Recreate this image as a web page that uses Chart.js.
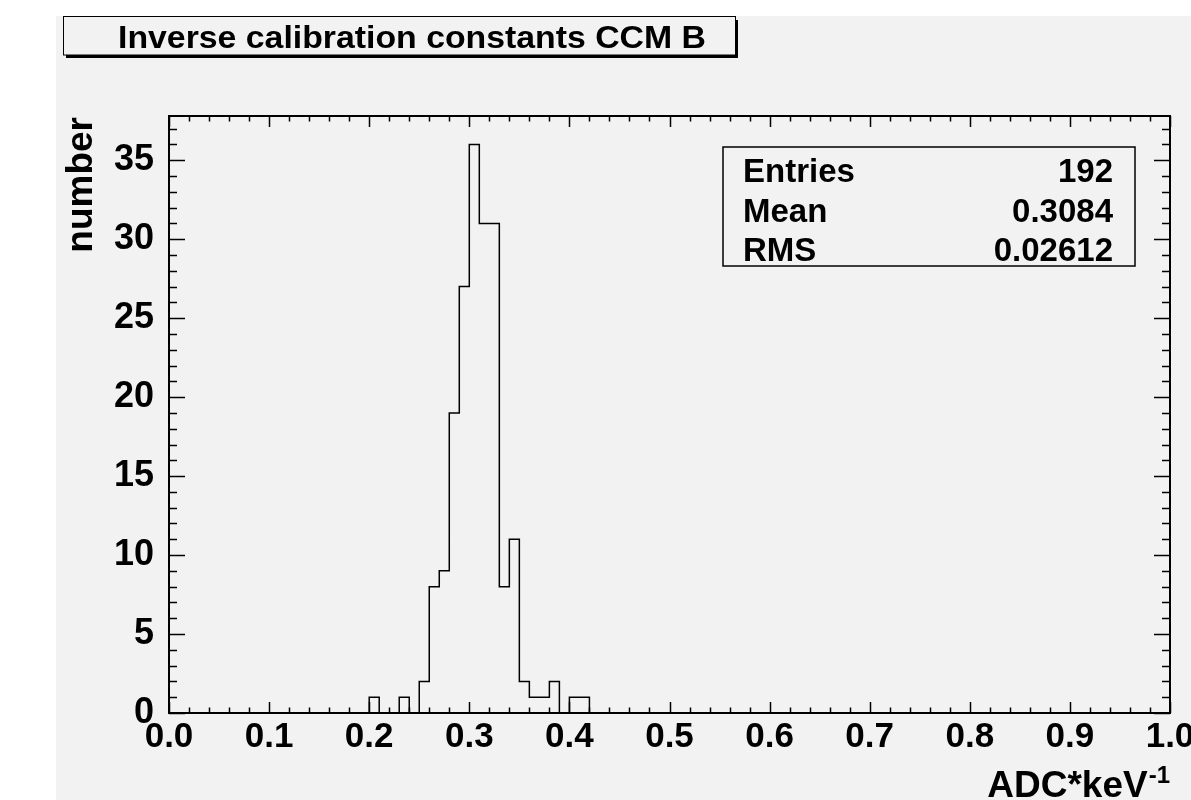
<!DOCTYPE html>
<html>
<head>
<meta charset="utf-8">
<script src="https://cdn.jsdelivr.net/npm/chart.js@4/dist/chart.umd.min.js"></script>
<style>
  html, body { margin: 0; padding: 0; background: #fff; }
  canvas { display: block; }
</style>
</head>
<body>
<canvas id="myChart" width="1191" height="800"></canvas>
<script>
// histogram bins (low edge) and counts, bin width 0.01
const binLow = [0.20, 0.21, 0.22, 0.23, 0.24, 0.25, 0.26, 0.27, 0.28, 0.29, 0.30,
                0.31, 0.32, 0.33, 0.34, 0.35, 0.36, 0.37, 0.38, 0.39, 0.40, 0.41];
const counts = [1, 0, 0, 1, 0, 2, 8, 9, 19, 27, 36, 31, 31, 8, 11, 2, 1, 1, 2, 0, 1, 1];
const binWidth = 0.01;
const xRange = [0, 1];
const yRange = [0, 37.8];

const titleText = 'Inverse calibration constants CCM B';
const xTitle = 'ADC*keV';
const xTitleSup = '-1';
const yTitle = 'number';
const statNames = ['Entries', 'Mean', 'RMS'];
const statValues = ['192', '0.3084', '0.02612'];

const FONT = '"Liberation Sans", Arial, Helvetica, sans-serif';

// step outline points
var pts = [{ x: xRange[0], y: 0 }];
for (var i = 0; i < binLow.length; i++) {
    pts.push({ x: binLow[i], y: counts[i] });
}
pts.push({ x: binLow[binLow.length - 1] + binWidth, y: 0 });
pts.push({ x: xRange[1], y: 0 });

const rootStyle = {
    id: 'rootStyle',
    beforeDraw: (chart) => {
        const ctx = chart.ctx;
        ctx.save();
        ctx.fillStyle = '#ffffff';
        ctx.fillRect(0, 0, chart.width, chart.height);
        ctx.fillStyle = '#f2f2f2';
        ctx.fillRect(56, 16, chart.width - 56, chart.height - 16);
        ctx.restore();
    },
    afterDraw: (chart) => {
        const ctx = chart.ctx;
        const a = chart.chartArea;
        const xs = chart.scales.x, ys = chart.scales.y;
        ctx.save();

        // ticks inside the frame
        ctx.strokeStyle = '#000';
        ctx.lineWidth = 1.5;
        ctx.beginPath();
        for (var k = 0; k <= 50; k++) {
            var v = k * 0.02;
            var px = Math.round(xs.getPixelForValue(v)) + 0.5;
            var len = (k % 5 === 0) ? 11 : 5.5;
            ctx.moveTo(px, a.bottom); ctx.lineTo(px, a.bottom - len);
            ctx.moveTo(px, a.top); ctx.lineTo(px, a.top + len);
        }
        for (var n = 0; n <= 37; n++) {
            var py = Math.round(ys.getPixelForValue(n)) + 0.5;
            var l2 = (n % 5 === 0) ? 16 : 8;
            ctx.moveTo(a.left, py); ctx.lineTo(a.left + l2, py);
            ctx.moveTo(a.right, py); ctx.lineTo(a.right - l2, py);
        }
        ctx.stroke();

        // frame
        ctx.lineWidth = 2;
        ctx.strokeRect(a.left, a.top, a.right - a.left, a.bottom - a.top);

        // title box with shadow
        ctx.fillStyle = '#000';
        ctx.fillRect(66, 20, 672, 38);
        ctx.fillStyle = '#f2f2f2';
        ctx.fillRect(63, 16, 672, 39);
        ctx.lineWidth = 1;
        ctx.strokeRect(63.5, 16.5, 672, 38.5);
        ctx.fillStyle = '#000';
        ctx.font = 'bold 32px ' + FONT;
        ctx.textBaseline = 'alphabetic';
        ctx.textAlign = 'left';
        var tw = ctx.measureText(titleText).width;
        ctx.save();
        ctx.translate(118, 48);
        ctx.scale(588 / tw, 1);
        ctx.fillText(titleText, 0, 0);
        ctx.restore();

        // stats box
        ctx.fillStyle = '#f2f2f2';
        ctx.fillRect(723, 147, 412, 119);
        ctx.lineWidth = 1.5;
        ctx.strokeRect(723, 147, 412, 119);
        ctx.fillStyle = '#000';
        ctx.font = 'bold 33px ' + FONT;
        ctx.textBaseline = 'middle';
        for (var r = 0; r < statNames.length; r++) {
            var ry = 173 + r * 39.5;
            ctx.textAlign = 'left';
            ctx.fillText(statNames[r], 743, ry);
            ctx.textAlign = 'right';
            ctx.fillText(statValues[r], 1113, ry);
        }

        // axis titles
        ctx.font = 'bold 37px ' + FONT;
        ctx.textBaseline = 'alphabetic';
        ctx.save();
        ctx.translate(92, 117);
        ctx.rotate(-Math.PI / 2);
        ctx.textAlign = 'right';
        ctx.fillText(yTitle, 0, 0);
        ctx.restore();

        ctx.font = 'bold 24px ' + FONT;
        var sw = ctx.measureText(xTitleSup).width;
        ctx.textAlign = 'right';
        ctx.fillText(xTitleSup, 1170, 783);
        ctx.font = 'bold 37px ' + FONT;
        ctx.fillText(xTitle, 1170 - sw - 1, 797);

        ctx.restore();
    }
};

const ctx = document.getElementById('myChart').getContext('2d');
const myChart = new Chart(ctx, {
    type: 'line',
    data: {
        datasets: [{
            data: pts,
            stepped: true,
            borderColor: '#000',
            borderWidth: 1.5,
            pointRadius: 0,
            fill: false,
        }]
    },
    options: {
        responsive: false,
        animation: false,
        devicePixelRatio: 1,
        layout: { padding: { left: 0, top: 116, right: 21, bottom: 0 } },
        plugins: { legend: { display: false }, tooltip: { enabled: false } },
        scales: {
            x: {
                type: 'linear',
                min: xRange[0],
                max: xRange[1],
                grid: { display: false },
                border: { display: false },
                ticks: {
                    stepSize: 0.1,
                    maxRotation: 0,
                    autoSkip: false,
                    padding: -5,
                    color: '#000',
                    font: { family: FONT, size: 35, weight: 'bold' },
                    callback: (v) => Number(v).toFixed(1)
                },
                afterFit: (s) => { s.height = 87; s.paddingLeft = 0; s.paddingRight = 0; }
            },
            y: {
                min: yRange[0],
                max: yRange[1],
                grid: { display: false },
                border: { display: false },
                ticks: {
                    stepSize: 5,
                    includeBounds: false,
                    padding: 7,
                    color: '#000',
                    font: { family: FONT, size: 36, weight: 'bold' },
                    callback: (v) => v
                },
                afterFit: (s) => { s.width = 169; s.paddingTop = 0; s.paddingBottom = 0; }
            }
        }
    },
    plugins: [rootStyle]
});
</script>
</body>
</html>
